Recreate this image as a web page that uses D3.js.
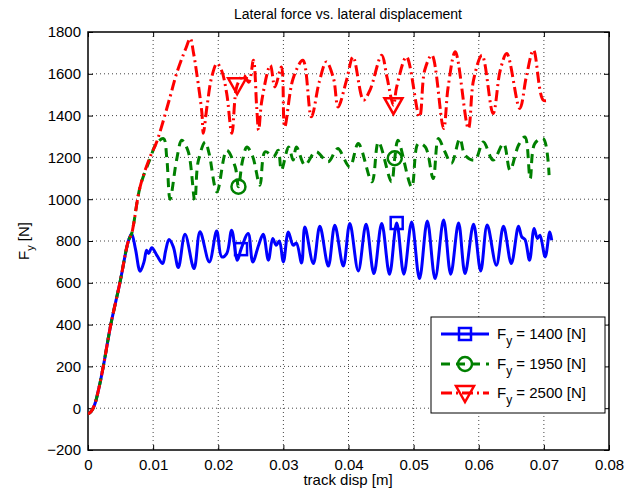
<!DOCTYPE html>
<html><head><meta charset="utf-8">
<script src="https://cdn.jsdelivr.net/npm/d3@7"></script>
<style>body{margin:0;background:#fff}svg{display:block}text{font-family:"Liberation Sans",Arial,sans-serif}</style>
</head><body><svg id="c" width="634" height="495"></svg>
<script>
const title = "Lateral force vs. lateral displacement";
const xTicks = [0,0.01,0.02,0.03,0.04,0.05,0.06,0.07,0.08];
const yTicks = [-200,0,200,400,600,800,1000,1200,1400,1600,1800];
const seriesNames = ["1400","1950","2500"];
const seriesColors = ["#0000ff","#008000","#ff0000"];

const rise = [[0,-28],[0.0005,-15],[0.001,15],[0.0017,100],[0.00235,200],[0.0035,400],[0.0049,600],[0.0062,800],[0.0067,835]];

const blue = rise.concat([[0.0073,760],[0.008,655],[0.0086,700],[0.009,756],[0.0093,740],[0.0098,768],[0.0106,730],[0.01147,692],[0.0119,750],[0.01244,807],[0.0131,772],[0.01387,673],[0.0149,832],[0.01628,668],[0.0172,844],[0.01863,700],[0.01976,848],[0.02053,724],[0.0213,740],[0.02206,852],[0.02293,708],[0.0235,761],[0.0246,836],[0.0253,700],[0.0262,780],[0.0269,832],[0.0277,708],[0.02836,812],[0.0289,780],[0.02938,800],[0.030,700],[0.03076,843],[0.0315,780],[0.0320,790],[0.0328,695],[0.0333,867],[0.0346,692],[0.0356,870],[0.0369,680],[0.0379,875],[0.0392,680],[0.0402,884],[0.0415,657],[0.0427,880],[0.0439,644],[0.0451,884],[0.0463,641],[0.0474,886],[0.0485,641],[0.0497,891],[0.0509,620],[0.0521,896],[0.0533,620],[0.0546,900],[0.0557,641],[0.0569,886],[0.0579,644],[0.0592,880],[0.0603,657],[0.0613,876],[0.0627,684],[0.0638,871],[0.065,692],[0.0661,871],[0.0666,820],[0.0671,807],[0.0678,708],[0.0685,860],[0.069,812],[0.0694,828],[0.0702,724],[0.0709,843],[0.0712,804]]);

const green = rise.concat([[0.007,880],[0.008,1059],[0.0095,1190],[0.0105,1266],[0.0116,1290],[0.0121,1195],[0.0126,1000],[0.0136,1187],[0.0144,1282],[0.0154,1227],[0.0164,995],[0.0169,1178],[0.018,1274],[0.0186,1218],[0.0198,1035],[0.0213,1234],[0.0226,1155],[0.0231,1060],[0.0237,1180],[0.0244,1250],[0.0253,1203],[0.0264,1067],[0.0272,1227],[0.0285,1203],[0.0292,1234],[0.0297,1139],[0.0308,1250],[0.0315,1187],[0.032,1250],[0.0333,1163],[0.0346,1218],[0.0351,1227],[0.0369,1179],[0.0379,1227],[0.0384,1243],[0.0402,1155],[0.0415,1266],[0.0436,1083],[0.0446,1274],[0.0466,1083],[0.0471,1196],[0.0476,1282],[0.0497,1059],[0.0507,1266],[0.0518,1250],[0.053,1099],[0.0538,1290],[0.0548,1227],[0.0558,1171],[0.0571,1290],[0.0579,1210],[0.0594,1187],[0.0607,1274],[0.0622,1187],[0.0638,1266],[0.0648,1139],[0.0661,1258],[0.0671,1298],[0.0679,1099],[0.0686,1266],[0.0699,1290],[0.0708,1115]]);

const red = rise.concat([[0.007,880],[0.008,1059],[0.0095,1200],[0.0105,1270],[0.0126,1489],[0.0136,1601],[0.015,1720],[0.0157,1769],[0.0162,1700],[0.0167,1601],[0.0175,1410],[0.0177,1315],[0.0183,1450],[0.019,1585],[0.0198,1649],[0.0205,1617],[0.0213,1506],[0.0221,1315],[0.0229,1545],[0.0239,1593],[0.0247,1560],[0.0254,1665],[0.0259,1441],[0.0262,1330],[0.0267,1474],[0.028,1641],[0.0287,1537],[0.0297,1633],[0.0302,1346],[0.0315,1578],[0.033,1665],[0.0343,1394],[0.0355,1560],[0.0366,1657],[0.0377,1578],[0.0384,1441],[0.0397,1570],[0.0407,1681],[0.0423,1474],[0.0433,1522],[0.0451,1689],[0.0459,1585],[0.0469,1450],[0.0474,1537],[0.0489,1681],[0.0509,1394],[0.0517,1617],[0.0528,1689],[0.0546,1338],[0.0553,1537],[0.0564,1705],[0.0584,1338],[0.0592,1570],[0.0605,1689],[0.0622,1410],[0.0633,1617],[0.0643,1697],[0.0663,1434],[0.0673,1585],[0.0684,1713],[0.0699,1474],[0.0707,1474]]);

const blueMarkers = [[0.0235,761],[0.0474,886]];
const greenMarkers = [[0.0231,1060],[0.0471,1196]];
const redMarkers = [[0.0229,1545],[0.0469,1450]];

const W=634,H=495, L=88, R=609, T=32, B=450;
const svg = d3.select("#c");
const x = d3.scaleLinear().domain([0,0.08]).range([L,R]);
const y = d3.scaleLinear().domain([-200,1800]).range([B,T]);

// grid
const g = svg.append("g");
g.selectAll("line.gx").data(xTicks.slice(1,-1)).enter().append("line")
 .attr("x1",d=>x(d)).attr("x2",d=>x(d)).attr("y1",T).attr("y2",B)
 .attr("stroke","#444").attr("stroke-width",1).attr("stroke-dasharray","1,3");
g.selectAll("line.gy").data(yTicks.slice(1,-1)).enter().append("line")
 .attr("y1",d=>y(d)).attr("y2",d=>y(d)).attr("x1",L).attr("x2",R)
 .attr("stroke","#444").attr("stroke-width",1).attr("stroke-dasharray","1,3");

// axes
const fmtX = d=> d===0?"0":d3.format(".2f")(d);
const fmtY = d=> d<0? "\u2212"+Math.abs(d) : String(d);
const axB = svg.append("g").attr("transform",`translate(0,${B})`).call(d3.axisBottom(x).tickValues(xTicks).tickFormat(fmtX).tickSizeInner(-5).tickSizeOuter(0).tickPadding(9));
const axT = svg.append("g").attr("transform",`translate(0,${T})`).call(d3.axisTop(x).tickValues(xTicks).tickFormat("").tickSizeInner(-5).tickSizeOuter(0));
const axL = svg.append("g").attr("transform",`translate(${L},0)`).call(d3.axisLeft(y).tickValues(yTicks).tickFormat(fmtY).tickSizeInner(-5).tickSizeOuter(0).tickPadding(7));
const axR = svg.append("g").attr("transform",`translate(${R},0)`).call(d3.axisRight(y).tickValues(yTicks).tickFormat("").tickSizeInner(-5).tickSizeOuter(0));
[axB,axT,axL,axR].forEach(a=>{a.select(".domain").remove();a.selectAll("text").attr("font-size",15).attr("fill","#000").style("font-family","'Liberation Sans',Arial,sans-serif");a.selectAll("line").attr("stroke","#000");});
svg.append("rect").attr("x",L).attr("y",T).attr("width",R-L).attr("height",B-T).attr("fill","none").attr("stroke","#000").attr("stroke-width",1.5);

// lines
const line = d3.line().x(d=>x(d[0])).y(d=>y(d[1])).curve(d3.curveCatmullRom.alpha(0.5));
svg.append("defs").append("clipPath").attr("id","cp").append("rect").attr("x",L).attr("y",T).attr("width",R-L).attr("height",B-T);
const pg = svg.append("g").attr("clip-path","url(#cp)");
const dashes = [null,"9,6","11,4,2,4"];
[blue,green,red].forEach((s,i)=>{
  pg.append("path").datum(s).attr("d",line).attr("fill","none").attr("stroke",seriesColors[i])
   .attr("stroke-width",3).attr("stroke-linejoin","round").attr("stroke-dasharray",dashes[i]);
});

// markers
function marker(sel,kind,cx,cy,color){
  if(kind===0) sel.append("rect").attr("x",cx-6).attr("y",cy-6).attr("width",12).attr("height",12);
  else if(kind===1) sel.append("circle").attr("cx",cx).attr("cy",cy).attr("r",7);
  else sel.append("path").attr("d",`M${cx-9},${cy-7}L${cx+9},${cy-7}L${cx},${cy+9}Z`);
  sel.selectAll("*").attr("fill","none").attr("stroke",color).attr("stroke-width",2.5);
}
[blueMarkers,greenMarkers,redMarkers].forEach((ms,i)=>{
  ms.forEach(m=>{ marker(pg.append("g"),i,x(m[0]),y(m[1]),seriesColors[i]); });
});

// legend
const lg = svg.append("g");
lg.append("rect").attr("x",431).attr("y",317).attr("width",174).attr("height",96).attr("fill","#fff").attr("stroke","#000").attr("stroke-width",1);
const rows=[334,364,393];
seriesNames.forEach((n,i)=>{
  lg.append("line").attr("x1",441).attr("x2",489).attr("y1",rows[i]).attr("y2",rows[i])
   .attr("stroke",seriesColors[i]).attr("stroke-width",3).attr("stroke-dasharray",dashes[i]);
  marker(lg.append("g"),i,465,rows[i],seriesColors[i]);
  const t = lg.append("text").attr("x",497).attr("y",rows[i]+5).attr("font-size",15).attr("fill","#000");
  t.append("tspan").text("F");
  t.append("tspan").attr("dy",6).attr("font-size",12).text("y");
  t.append("tspan").attr("dy",-6).text(" = "+n+" [N]");
});

// title & labels
svg.append("text").attr("x",348).attr("y",19).attr("text-anchor","middle").attr("font-size",14).text(title);
svg.append("text").attr("x",348).attr("y",485).attr("text-anchor","middle").attr("font-size",15).text("track disp [m]");
const yl = svg.append("text").attr("transform","translate(29,241) rotate(-90)").attr("text-anchor","middle").attr("font-size",15);
yl.append("tspan").text("F");
yl.append("tspan").attr("dy",5).attr("font-size",11).text("y");
yl.append("tspan").attr("dy",-5).text(" [N]");
</script></body></html>
